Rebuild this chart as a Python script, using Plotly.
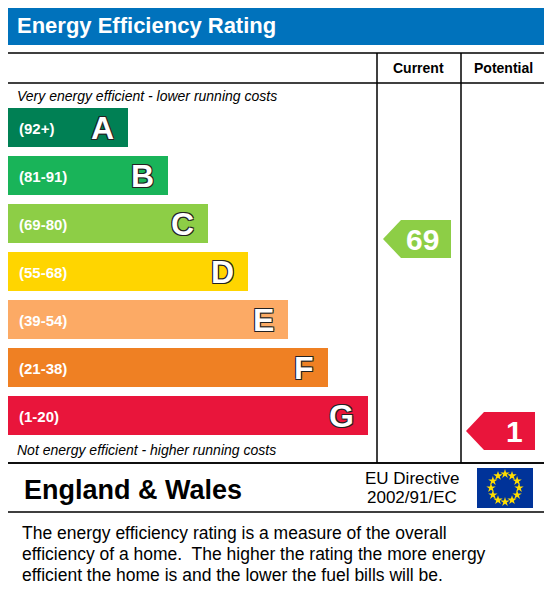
import math
import plotly.graph_objects as go

bands = ["A", "B", "C", "D", "E", "F", "G"]
ranges = ["(92+)", "(81-91)", "(69-80)", "(55-68)", "(39-54)", "(21-38)", "(1-20)"]
band_widths = [128, 168, 208, 248, 288, 328, 368]
colors = ["#008054", "#19b459", "#8dce46", "#ffd500", "#fcaa65", "#ef8023", "#e9153b"]
current_value = 69
current_band = "C"
potential_value = 1
potential_band = "G"

FONT = "Liberation Sans, Arial, sans-serif"
OUT = "-1px -1px 0 #222, 1px -1px 0 #222, -1px 1px 0 #222, 1px 1px 0 #222"
shapes, ann = [], []

def rect(x0, y0, x1, y1, fill=None, line="#000", w=1.5):
    shapes.append(dict(type="rect", x0=x0, y0=y0, x1=x1, y1=y1, fillcolor=fill or "rgba(0,0,0,0)",
                       line=dict(color=line, width=w if line else 0), layer="below"))

def text(x, y, s, size, color="#000", anchor="left", bold=False, italic=False, shadow=None):
    f = dict(family=FONT, size=size, color=color, weight="bold" if bold else "normal",
             style="italic" if italic else "normal")
    if shadow:
        f["shadow"] = shadow
    ann.append(dict(x=x, y=y, text=s, showarrow=False, xanchor=anchor, yanchor="middle", font=f))

rect(5, 5, 547, 45, fill="#0072bc", line=None, w=0)
text(15, 25, "Energy Efficiency Rating", 22, "#fff", bold=True)
rect(6, 53, 546, 463)
shapes.append(dict(type="line", x0=6, x1=546, y0=83, y1=83, line=dict(color="#000", width=1.5)))
for x in (377, 461):
    shapes.append(dict(type="line", x0=x, x1=x, y0=53, y1=463, line=dict(color="#000", width=1.5)))
text(418, 68, "Current", 14, bold=True, anchor="center")
text(503, 68, "Potential", 14, bold=True, anchor="center")
text(15, 96, "Very energy efficient - lower running costs", 14, italic=True)
text(15, 450, "Not energy efficient - higher running costs", 14, italic=True)

tops = {}
for i, (b, r, w, c) in enumerate(zip(bands, ranges, band_widths, colors)):
    y0 = 108 + i * 48
    tops[b] = y0
    rect(7, y0, w, y0 + 39, fill=c, line=None, w=0)
    text(17, y0 + 20, r, 15, "#fff", bold=True)
    text(w - 12, y0 + 20, b, 32, "#fff", anchor="right", bold=True, shadow=OUT)

def arrow(x0, x1, b, val):
    y0 = tops[b] + 16
    y1 = y0 + 38
    ym = (y0 + y1) / 2
    c = colors[bands.index(b)]
    shapes.append(dict(type="path", path=f"M {x0} {ym} L {x0+18} {y0} L {x1} {y0} L {x1} {y1} L {x0+18} {y1} Z",
                       fillcolor=c, line=dict(width=0)))
    text(x1 - 10, ym, str(val), 30, "#fff", anchor="right", bold=True)

arrow(383, 451, current_band, current_value)
arrow(466, 535, potential_band, potential_value)

rect(6, 463, 546, 512)
text(22, 490, "England & Wales", 27, bold=True)
text(412, 478, "EU Directive", 17, anchor="center")
text(412, 497, "2002/91/EC", 17, anchor="center")
rect(477, 468, 533, 508, fill="#003399", line=None, w=0)
sx = [505 + 14 * math.cos(k * math.pi / 6) for k in range(12)]
sy = [488 + 14 * math.sin(k * math.pi / 6) for k in range(12)]

desc = ["The energy efficiency rating is a measure of the overall",
        "efficiency of a home.  The higher the rating the more energy",
        "efficient the home is and the lower the fuel bills will be."]
for i, l in enumerate(desc):
    text(20, 533 + i * 21, l, 17.5)

fig = go.Figure(go.Scatter(x=sx, y=sy, mode="markers", hoverinfo="skip",
                           marker=dict(symbol="star", size=7, color="#ffdd00", line=dict(width=0))))
fig.update_layout(width=544, height=605, margin=dict(l=0, r=0, t=0, b=0),
                  plot_bgcolor="#fff", paper_bgcolor="#fff", showlegend=False,
                  xaxis=dict(range=[8, 552], visible=False, fixedrange=True),
                  yaxis=dict(range=[613, 8], visible=False, fixedrange=True),
                  shapes=shapes, annotations=ann)
fig.write_html("out.html")
